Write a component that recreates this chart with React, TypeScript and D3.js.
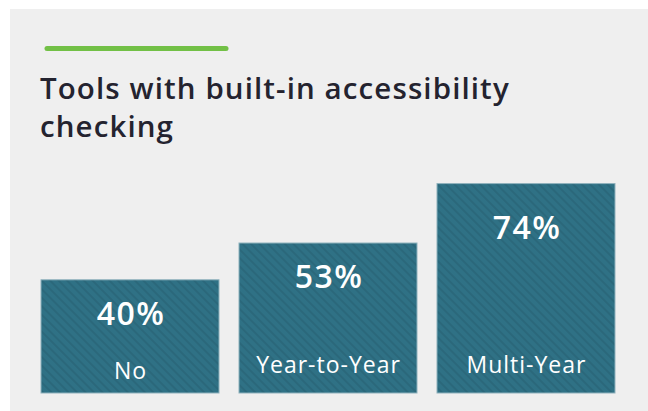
import React, { useEffect, useRef } from 'react';
import * as d3 from 'd3';

const categories: string[] = ['No', 'Year-to-Year', 'Multi-Year'];
const values: number[] = [40, 53, 74];
const titleLines: string[] = ['Tools with built-in accessibility', 'checking'];

const W = 648;
const H = 411;

const App: React.FC = () => {
  const svgRef = useRef<SVGSVGElement | null>(null);

  useEffect(() => {
    if (!svgRef.current) return;
    const svg = d3.select(svgRef.current);
    svg.selectAll('*').remove();

    const font = '"Open Sans", Lato, sans-serif';

    // 줄무늬 패턴
    const defs = svg.append('defs');
    const pat = defs
      .append('pattern')
      .attr('id', 'stripes')
      .attr('patternUnits', 'userSpaceOnUse')
      .attr('width', 6)
      .attr('height', 6)
      .attr('patternTransform', 'rotate(45)');
    pat.append('rect').attr('width', 6).attr('height', 6).attr('fill', '#2f7185');
    pat.append('rect').attr('width', 6).attr('height', 2).attr('fill', '#2b687b');

    // 배경
    svg.append('rect').attr('x', 10).attr('y', 9).attr('width', W - 10).attr('height', H - 9).attr('fill', '#efefef');

    // 녹색 선
    svg
      .append('line')
      .attr('x1', 47)
      .attr('x2', 226)
      .attr('y1', 48.5)
      .attr('y2', 48.5)
      .attr('stroke', '#72c046')
      .attr('stroke-width', 5)
      .attr('stroke-linecap', 'round');

    // 제목
    svg
      .append('g')
      .selectAll('text')
      .data(titleLines)
      .join('text')
      .attr('x', 40)
      .attr('y', (_, i) => 99 + i * 38)
      .attr('fill', '#24232f')
      .attr('font-family', font)
      .attr('font-size', 29.5)
      .attr('font-weight', 600)
      .attr('letter-spacing', 1.1)
      .text((d) => d);

    const x = d3.scaleBand<string>().domain(categories).range([41, 615]).paddingInner(0.101).paddingOuter(0);
    const y = d3.scaleLinear().domain([0, 100]).range([393, 110]);

    const bars = svg
      .append('g')
      .selectAll('g')
      .data(categories)
      .join('g');

    bars
      .append('rect')
      .attr('x', (d) => x(d)!)
      .attr('y', (_, i) => y(values[i]))
      .attr('width', x.bandwidth())
      .attr('height', (_, i) => y(0) - y(values[i]))
      .attr('fill', 'url(#stripes)')
      .attr('stroke', '#8fb2bd')
      .attr('stroke-width', 1);

    bars
      .append('text')
      .attr('x', (d) => x(d)! + x.bandwidth() / 2 + 1)
      .attr('y', (_, i) => y(values[i]) + (i === 2 ? 55 : 45))
      .attr('text-anchor', 'middle')
      .attr('fill', '#ffffff')
      .attr('font-family', font)
      .attr('font-size', 32)
      .attr('font-weight', 600)
      .attr('letter-spacing', 1.5)
      .text((_, i) => `${values[i]}%`);

    bars
      .append('text')
      .attr('x', (d) => x(d)! + x.bandwidth() / 2 + 0.5)
      .attr('y', (_, i) => (i === 0 ? 379 : 373))
      .attr('text-anchor', 'middle')
      .attr('fill', '#ffffff')
      .attr('font-family', font)
      .attr('font-size', 23)
      .attr('letter-spacing', 1)
      .text((d) => d);
  }, []);

  return (
    <svg
      ref={svgRef}
      width={W}
      height={H}
      style={{ position: 'absolute', left: 0, top: 0, display: 'block', background: '#ffffff' }}
    />
  );
};

export default App;
